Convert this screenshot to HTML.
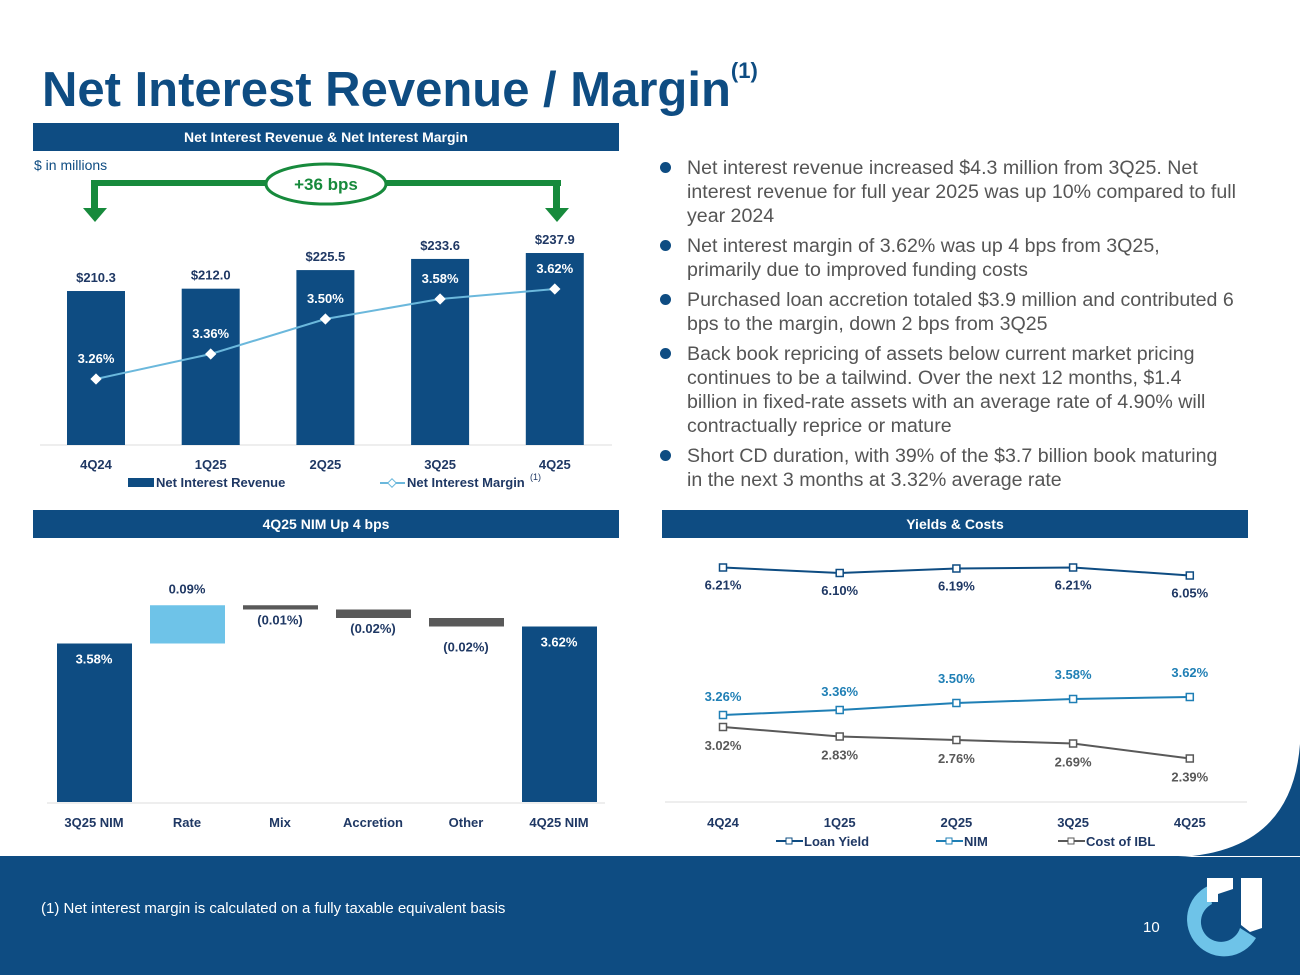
<!DOCTYPE html>
<html><head><meta charset="utf-8"><style>
body{margin:0;width:1300px;height:975px;background:#fff;font-family:"Liberation Sans",sans-serif;overflow:hidden;position:relative}
.hdr{position:absolute;background:#0e4c82;color:#fff;font-weight:bold;font-size:14px;text-align:center;line-height:28px;height:28px}
svg text{font-family:"Liberation Sans",sans-serif}
.bul{position:absolute;left:660px;width:620px;font-size:19.6px;color:#555;line-height:24px;white-space:nowrap}
.bul div{position:relative;padding-left:27px;margin-bottom:6px}
.bul div:before{content:"";position:absolute;left:0;top:6px;width:11px;height:11px;border-radius:50%;background:#0e4c82}
</style></head><body>
<div style="position:absolute;left:42px;top:58px;font-size:49px;font-weight:bold;color:#0e4c82">Net Interest Revenue / Margin<sup style="font-size:22px;vertical-align:28px">(1)</sup></div>
<div class="hdr" style="left:33px;top:123px;width:586px">Net Interest Revenue &amp; Net Interest Margin</div>
<div class="hdr" style="left:33px;top:510px;width:586px">4Q25 NIM Up 4 bps</div>
<div class="hdr" style="left:662px;top:510px;width:586px">Yields &amp; Costs</div>
<div style="position:absolute;left:34px;top:157px;font-size:14px;color:#0e4c82">$ in millions</div>
<div class="bul" style="top:156px">
<div>Net interest revenue increased $4.3 million from 3Q25. Net<br>interest revenue for full year 2025 was up 10% compared to full<br>year 2024</div>
<div>Net interest margin of 3.62% was up 4 bps from 3Q25,<br>primarily due to improved funding costs</div>
<div>Purchased loan accretion totaled $3.9 million and contributed 6<br>bps to the margin, down 2 bps from 3Q25</div>
<div>Back book repricing of assets below current market pricing<br>continues to be a tailwind. Over the next 12 months, $1.4<br>billion in fixed-rate assets with an average rate of 4.90% will<br>contractually reprice or mature</div>
<div>Short CD duration, with 39% of the $3.7 billion book maturing<br>in the next 3 months at 3.32% average rate</div>
</div>
<svg id="s" width="1300" height="975" style="position:absolute;left:0;top:0" xmlns="http://www.w3.org/2000/svg">
<path d="M0,856 L1300,856 L1300,975 L0,975 Z M1300,744 Q1292,852 1178,857 L1300,857 Z" fill="#0e4c82"/>
<text x="41" y="913" fill="#fff" font-size="15">(1) Net interest margin is calculated on a fully taxable equivalent basis</text>
<text x="1143" y="932" fill="#fff" font-size="15">10</text>
<g>
<path d="M1208,886 A37,37 0 1 0 1256,938 L1240,928 A20,20 0 1 1 1212,904 Z" fill="#6ec3e8"/>
<path d="M1207,878 L1233,878 L1233,889 L1218,894 L1218,902 L1207,902 Z" fill="#fff"/>
<path d="M1241,878 L1262,878 L1262,928 L1250,932 L1241,925 Z" fill="#fff"/>
</g>
<g fill="#178a3c">
<rect x="91" y="180" width="470" height="6"/><rect x="91" y="180" width="7" height="28"/><rect x="553" y="180" width="7" height="28"/>
<polygon points="83,208 107,208 95,222"/><polygon points="545,208 569,208 557,222"/>
<ellipse cx="326" cy="184" rx="60" ry="20" fill="#fff" stroke="#178a3c" stroke-width="3"/>
<text x="326" y="190" text-anchor="middle" font-size="17" font-weight="bold">+36 bps</text>
</g>
<g id="g1"></g><g id="g2"></g><g id="g3"></g>
</svg>
<script>
const quarters=["4Q24","1Q25","2Q25","3Q25","4Q25"];
const revenue=[210.3,212.0,225.5,233.6,237.9];
const nim=[3.26,3.36,3.50,3.58,3.62];
const wfCats=["3Q25 NIM","Rate","Mix","Accretion","Other","4Q25 NIM"];
const wfVals=[3.58,0.09,-0.01,-0.02,-0.02,3.62];
const loanYield=[6.21,6.10,6.19,6.21,6.05];
const nimY=[3.26,3.36,3.50,3.58,3.62];
const costIBL=[3.02,2.83,2.76,2.69,2.39];
const NS="http://www.w3.org/2000/svg";
function mk(p,t,a,txt){const e=document.createElementNS(NS,t);for(const k in a)e.setAttribute(k,a[k]);if(txt!==undefined)e.textContent=txt;p.appendChild(e);return e;}
const blue="#0e4c82",dark="#1f3864";
// chart 1
const g1=document.getElementById('g1');
const x1=i=>96+i*114.7, yR=v=>580.6-v*1.377, yN=v=>379-(v-3.26)*250;
mk(g1,'line',{x1:40,x2:612,y1:445,y2:445,stroke:'#ddd'});
quarters.forEach((q,i)=>{
 let b=mk(g1,'rect',{x:x1(i)-29,y:yR(revenue[i]),width:58,height:445-yR(revenue[i]),fill:blue});
 
 mk(g1,'text',{x:x1(i),y:yR(revenue[i])-9,'text-anchor':'middle','font-size':13,'font-weight':'bold',fill:dark},'$'+revenue[i].toFixed(1));
 mk(g1,'text',{x:x1(i),y:469,'text-anchor':'middle','font-size':13,'font-weight':'bold',fill:dark},q);
});
mk(g1,'polyline',{points:nim.map((v,i)=>x1(i)+','+yN(v)).join(' '),fill:'none',stroke:'#6bb8dc','stroke-width':2});
nim.map((v,i)=>{let d=mk(g1,'rect',{x:x1(i)-4,y:yN(v)-4,width:8,height:8,fill:'#fff',transform:`rotate(45 ${x1(i)} ${yN(v)})`});
 
 mk(g1,'text',{x:x1(i),y:yN(v)-16,'text-anchor':'middle','font-size':13,'font-weight':'bold',fill:'#fff'},v.toFixed(2)+'%');});
mk(g1,'rect',{x:128,y:478,width:26,height:9,fill:blue});
mk(g1,'text',{x:156,y:487,'font-size':13,'font-weight':'bold',fill:dark},'Net Interest Revenue');
mk(g1,'line',{x1:380,x2:405,y1:483,y2:483,stroke:'#6bb8dc','stroke-width':2});
mk(g1,'rect',{x:389,y:480,width:6,height:6,fill:'#fff',stroke:'#6bb8dc',transform:'rotate(45 392 483)'});
mk(g1,'text',{x:407,y:487,'font-size':13,'font-weight':'bold',fill:dark},'Net Interest Margin');
mk(g1,'text',{x:530,y:480,'font-size':9,fill:dark},'(1)');
// chart 2 waterfall
const g2=document.getElementById('g2');
const x2=i=>94+i*93, yW=v=>2165-v*425;
mk(g2,'line',{x1:47,x2:605,y1:803,y2:803,stroke:'#ddd'});
let run=0;
wfCats.forEach((c,i)=>{
 let top,bot,col,lab;
 if(i==0||i==wfCats.length-1){run=wfVals[i];top=yW(run);bot=802;col=blue;lab=wfVals[i].toFixed(2)+'%';}
 else{const a=run,b=run+wfVals[i];run=b;top=yW(Math.max(a,b));bot=yW(Math.min(a,b));col=wfVals[i]>0?'#6ec3e8':'#595959';lab=wfVals[i]>0?wfVals[i].toFixed(2)+'%':'('+Math.abs(wfVals[i]).toFixed(2)+'%)';}
 let r=mk(g2,'rect',{x:x2(i)-37,y:top,width:75,height:Math.max(bot-top,1),fill:col});
 
 let ly=(i==0||i==wfCats.length-1)?top+20:(wfVals[i]>0?top-12:bot+15+(i==4?10:0));
 mk(g2,'text',{x:x2(i),y:ly,'text-anchor':'middle','font-size':13,'font-weight':'bold',fill:(i==0||i==wfCats.length-1)?'#fff':dark},lab);
 mk(g2,'text',{x:x2(i),y:827,'text-anchor':'middle','font-size':13,'font-weight':'bold',fill:dark},c);
});
// chart 3
const g3=document.getElementById('g3');
const x3=i=>723+i*116.7, yY=v=>715+(3.26-v)*50;
mk(g3,'line',{x1:665,x2:1247,y1:802,y2:802,stroke:'#ddd'});
const series=[[loanYield,'#0e4c82',dark,i=>22],[nimY,'#1f7fb5','#1f7fb5',i=>-14-(i>=2?6:0)],[costIBL,'#595959','#595959',i=>23]];
series.forEach(([d,c,tc,off],si)=>{
 mk(g3,'polyline',{points:d.map((v,i)=>x3(i)+','+yY(v)).join(' '),fill:'none',stroke:c,'stroke-width':2});
 d.forEach((v,i)=>{let p=mk(g3,'rect',{x:x3(i)-3.5,y:yY(v)-3.5,width:7,height:7,fill:'#fff',stroke:c,'stroke-width':1.5});
  
  mk(g3,'text',{x:x3(i),y:yY(v)+off(i),'text-anchor':'middle','font-size':13,'font-weight':'bold',fill:tc},v.toFixed(2)+'%');});
});
quarters.forEach((q,i)=>mk(g3,'text',{x:x3(i),y:827,'text-anchor':'middle','font-size':13,'font-weight':'bold',fill:dark},q));
[['Loan Yield',776,'#0e4c82'],['NIM',936,'#1f7fb5'],['Cost of IBL',1058,'#595959']].forEach(([n,x,c])=>{
 mk(g3,'line',{x1:x,x2:x+27,y1:841,y2:841,stroke:c,'stroke-width':2});
 mk(g3,'rect',{x:x+10,y:838,width:6,height:6,fill:'#fff',stroke:c});
 mk(g3,'text',{x:x+28,y:846,'font-size':13,'font-weight':'bold',fill:dark},n);});
</script>
</body></html>
